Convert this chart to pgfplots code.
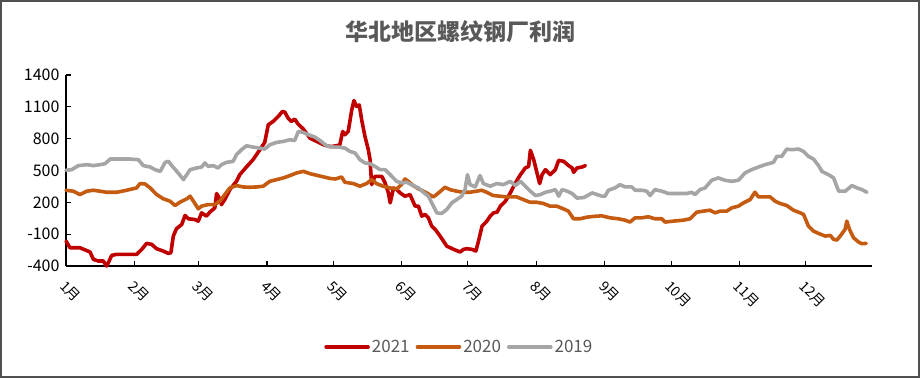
\documentclass[border=0pt]{standalone}
\usepackage{pgfplots}
\pgfplotsset{compat=1.18}
\usepackage{fontspec}
\setmainfont{Noto Sans CJK SC}
\definecolor{c21}{HTML}{C00000}
\definecolor{c20}{HTML}{C55A11}
\definecolor{c19}{HTML}{A5A5A5}
\definecolor{titlegray}{HTML}{595959}
\definecolor{framegray}{HTML}{505050}
\begin{document}
\begin{tikzpicture}
\begin{axis}[
  name=ax, at={(0,0)}, anchor=south west,
  scale only axis, width=806pt, height=191pt,
  xmin=0, xmax=365, ymin=-400, ymax=1400,
  clip=false,
  axis x line*=bottom, axis y line*=left,
  axis line style={-, line width=1.3pt, black},
  xtick={0,31,60,91,121,152,182,213,244,274,305,335},
  xticklabels={1月,2月,3月,4月,5月,6月,7月,8月,9月,10月,11月,12月},
  ytick={-400,-100,200,500,800,1100,1400},
  yticklabels={-400,-100,200,500,800,1100,1400},
  major tick length=5pt,
  tick style={black, line width=1.1pt},
  xticklabel style={xshift=1pt, yshift=-12pt, rotate=-45, anchor=north west, inner sep=1pt, font=\fontsize{14}{15}\selectfont},
  yticklabel style={font=\fontsize{16}{18}\selectfont, xshift=-3pt},
  legend style={at={(0.488,-0.424)}, anchor=center, draw=none, fill=none,
    font=\fontsize{17}{19}\selectfont, text=titlegray, legend columns=3,
    /tikz/every even column/.append style={column sep=4pt}},
  legend image code/.code={\draw[#1] (0pt,0pt) -- (42pt,0pt);},
  every axis plot/.append style={line width=3.6pt, line join=round, line cap=round},
]
\addplot[c21] coordinates {
(0,-165) (1.8,-228) (6.3,-228) (10.9,-268) (12.4,-337) (14.6,-353) (16.9,-353) (18.4,-400) (19.2,-368) (20.7,-300) (23,-290) (32,-290) (34.3,-243) (36.5,-187) (38.8,-196) (41,-237) (44,-259) (46.3,-281) (47.5,-275) (48.6,-118) (50,-49) (52.4,-9) (53.9,76) (55.4,45) (58.4,38) (59.9,23) (61.4,101) (63.6,70) (65.1,107) (67.4,148) (68.2,283) (69.2,250) (70.4,179) (71.9,226) (74.2,320) (77.2,398) (78.7,461) (81.7,533) (84.7,602) (87.8,696) (90,765) (91.6,931) (93.8,962) (96.1,1009) (98,1056) (99.1,1050) (100.6,993) (102,962) (103.6,984) (105,940) (107.5,890) (110.5,805) (113.5,774) (116.6,743) (119.6,725) (122.6,733) (124,743) (125.3,868) (126.3,837) (127.8,868) (129.4,1071) (130.4,1159) (131.6,1103) (132.8,1118) (133.9,977) (135.4,821) (136.9,696) (137.7,602) (138.4,367) (139.9,445) (143,445) (144.5,383) (146,289) (146.8,195) (147.5,258) (148.3,336) (149.8,320) (151.3,289) (153.5,258) (155.8,273) (158.1,164) (159.6,164) (161.1,70) (162.6,86) (164.1,54) (165.6,-24) (167.2,-55) (169.4,-118) (172.4,-212) (175.5,-243) (178.5,-268) (180,-243) (181.5,-237) (183.8,-243) (185.6,-259) (186.8,-165) (188.4,-24) (190.6,23) (192.1,70) (193.6,101) (195.2,107) (196.7,164) (199,211) (201.2,289) (203.5,383) (205.8,461) (208,524) (209.5,539) (210.3,690) (211.8,602) (213.3,477) (214.5,377) (215.6,461) (217.1,508) (219.3,461) (221.6,508) (223.1,596) (225.4,586) (227.6,546) (229.2,524) (229.9,483) (231.4,524) (233.7,533) (235.2,546)
};
\addlegendentry{2021}
\addplot[c20] coordinates {
(0,314) (3.3,305) (6.3,273) (9.4,305) (12.4,314) (15.4,305) (18.4,295) (23,295) (27.5,314) (32,336) (33.5,377) (35.8,373) (38.1,336) (41.1,273) (44.1,233) (47.1,211) (49.4,170) (51.6,201) (54.7,233) (56.2,258) (57.7,211) (59.9,139) (61.4,164) (64.4,179) (67.4,179) (69.7,211) (71.9,273) (74.2,336) (77.2,358) (80.2,345) (83.2,342) (86.3,345) (89.3,352) (92.3,398) (95.4,414) (98.4,430) (101.4,452) (104.4,477) (107.5,492) (110.5,470) (113.5,455) (116.6,440) (119.6,425) (122,420) (124.8,439) (126.3,389) (130.1,377) (133.1,352) (136.1,377) (138.4,414) (140.6,377) (143.6,352) (146.6,336) (149.7,326) (151.9,367) (153.5,420) (155,398) (157.2,358) (160.3,320) (163.3,289) (166.3,251) (167.8,273) (170.1,314) (171.6,342) (173.9,320) (176.9,305) (179.9,295) (182.9,295) (186,305) (188.2,314) (190.5,295) (193.5,264) (196.5,258) (199.5,251) (204.1,251) (207.1,226) (210.1,201) (213.1,201) (216.2,189) (219.2,164) (222.2,164) (225.2,139) (227.5,117) (229.8,45) (232.8,45) (235.8,60) (238.8,67) (242.6,73) (246.4,54) (250.1,45) (253.2,32) (255.4,14) (257.7,54) (260.7,54) (263.7,64) (266.7,45) (269.8,45) (271.3,14) (275,23) (279.6,32) (282.6,45) (285.6,107) (288.6,117) (291.6,126) (293.9,101) (296.2,117) (299.2,117) (301.5,148) (304.5,164) (306.8,195) (309.8,226) (311.3,273) (312,295) (313.6,251) (316.6,251) (318.9,251) (321.1,211) (323.4,189) (326.4,170) (329.4,126) (332.5,101) (334,86) (336.2,-24) (338.5,-71) (340.8,-93) (343.8,-118) (346.1,-112) (347.6,-149) (349.1,-155) (350.6,-118) (352.8,-55) (353.6,23) (354.8,-55) (356.6,-133) (358.9,-174) (360.4,-190) (362.4,-187)
};
\addlegendentry{2020}
\addplot[c19] coordinates {
(0,502) (2.6,508) (5.6,546) (9.4,555) (12.4,546) (15.4,555) (17.7,564) (20,608) (24.5,608) (29,608) (32.8,602) (35,546) (38.1,533) (40.3,508) (42.7,492) (44.9,577) (46.4,586) (47.9,546) (50.2,492) (53.2,414) (54.7,461) (56.2,508) (59.2,524) (61.4,533) (62.9,571) (64.4,539) (66.7,546) (68.9,524) (70.4,555) (72.7,577) (75.7,586) (77.2,649) (79.5,696) (81.7,733) (84.7,721) (87.8,711) (90,702) (92.3,743) (95.4,765) (98.4,774) (101.4,790) (103.6,783) (105.2,868) (107.5,858) (109.7,837) (112.7,815) (115,783) (118,733) (121,721) (123.3,721) (126.3,711) (128.6,680) (130.9,665) (133.1,602) (135.4,571) (137.7,564) (139.9,539) (142.2,508) (144.5,508) (146.8,461) (149.7,398) (152,383) (154.3,389) (157.3,358) (159.6,336) (161.8,295) (164.1,258) (166.4,164) (167.9,101) (170.1,95) (172.4,132) (174.7,195) (176.9,226) (179.2,258) (180.7,320) (181.8,461) (183,367) (185.3,345) (187.5,452) (189,377) (192.1,352) (195.1,377) (198.1,367) (201.2,398) (203.5,358) (205.8,398) (208,352) (210.3,305) (212.6,264) (214.8,273) (217.1,295) (219.3,305) (221.6,320) (223.1,258) (224.6,320) (227,305) (229.2,283) (231.4,240) (234.5,245) (238.3,289) (242.6,258) (244.1,258) (245.6,314) (248.6,336) (250.9,367) (253.2,345) (256.2,345) (257.7,314) (260.7,314) (263,305) (264.5,264) (266.7,320) (269.8,305) (272.8,283) (276.5,283) (281.1,283) (283.3,295) (284.8,273) (287.1,320) (289.4,336) (292.4,408) (295.4,430) (298.4,408) (301.5,398) (304.5,408) (307.5,477) (310.5,508) (313.6,533) (316.6,555) (320.4,577) (321.9,633) (324.1,633) (326.4,702) (328.7,696) (331.7,702) (334,680) (336.2,633) (338.5,608) (340.8,546) (342.3,492) (345.3,461) (347.6,430) (349.9,305) (352.9,305) (355.9,358) (358.2,336) (360.4,320) (362.7,295)
};
\addlegendentry{2019}
\end{axis}
\node[font=\fontsize{23}{26}\selectfont\bfseries, text=titlegray] at (394pt,234pt) {华北地区螺纹钢厂利润};
\draw[line width=2pt, draw=framegray] (-65pt,-111pt) rectangle (853pt,265pt);
\end{tikzpicture}
\end{document}
